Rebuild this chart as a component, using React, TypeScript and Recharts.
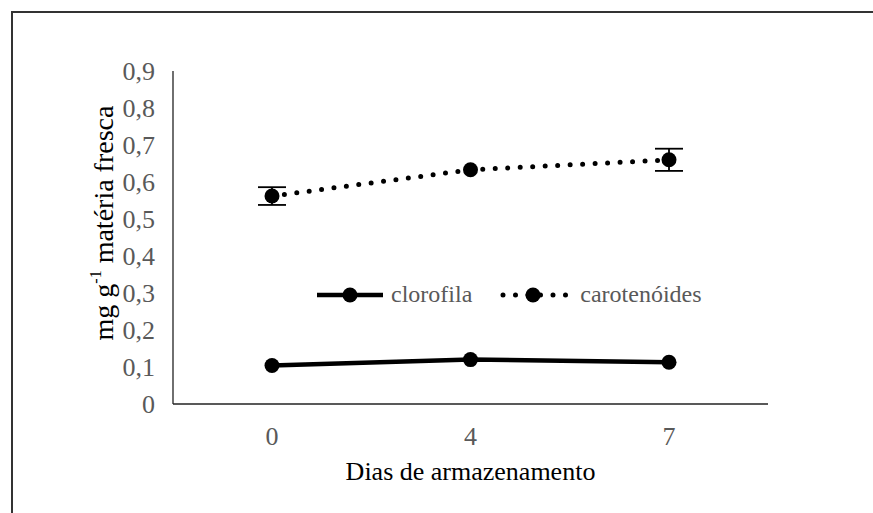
import React from 'react';
import { LineChart, Line, XAxis, YAxis, ErrorBar, Legend, Label } from 'recharts';

const days = ['0', '4', '7'];
const clorofila = [0.104, 0.12, 0.113];
const carotenoides = [0.562, 0.633, 0.66];
const carotenoidesErr: (number | null)[] = [0.024, null, 0.03];
const yTicks = [0, 0.1, 0.2, 0.3, 0.4, 0.5, 0.6, 0.7, 0.8, 0.9];
const seriesNames = ['clorofila', 'carotenoides'];
const legendLabels = ['clorofila', 'carotenóides'];
const xTitle = 'Dias de armazenamento';

const data = days.map((d, i) => ({
  dia: d,
  clorofila: clorofila[i],
  carotenoides: carotenoides[i],
  carotenoidesErr: carotenoidesErr[i],
}));

const FONT = '"Liberation Serif", "Times New Roman", serif';
const GREY = '#595959';

const fmt = (v: number) => (v === 0 ? '0' : v.toFixed(1).replace('.', ','));

const Dot = (props: any) => {
  const { cx, cy } = props;
  if (cx == null || cy == null) return null;
  return <circle cx={cx} cy={cy} r={7.5} fill="#000" stroke="none" />;
};

const LegendContent = () => (
  <div style={{ display: 'flex', alignItems: 'center', fontFamily: FONT, fontSize: 24, color: GREY }}>
    <svg width={70} height={20} style={{ marginRight: 6 }}>
      <line x1={2} y1={10} x2={68} y2={10} stroke="#000" strokeWidth={4.5} />
      <circle cx={35} cy={10} r={7.5} fill="#000" />
    </svg>
    <span style={{ marginRight: 28 }}>{legendLabels[0]}</span>
    <svg width={70} height={20} style={{ marginRight: 10 }}>
      <line x1={3} y1={10} x2={68} y2={10} stroke="#000" strokeWidth={5} strokeDasharray="0 12.5" strokeLinecap="round" />
      <circle cx={33} cy={10} r={7.5} fill="#000" />
    </svg>
    <span>{legendLabels[1]}</span>
  </div>
);

const YTitle = (props: any) => {
  const vb = props.viewBox || { x: 0, y: 44, width: 173, height: 360 };
  const cx = vb.x + 103;
  const cy = vb.y + 152;
  return (
    <text
      x={cx}
      y={cy}
      transform={`rotate(-90 ${cx} ${cy})`}
      textAnchor="middle"
      dominantBaseline="central"
      fontFamily={FONT}
      fontSize={28}
      fill="#000"
    >
      mg g<tspan dy={-8} fontSize={16}>-1</tspan>
      <tspan dy={8}> matéria fresca</tspan>
    </text>
  );
};

export default function App() {
  return (
    <div style={{ position: 'absolute', left: 0, top: 0, width: 873, height: 513, overflow: 'hidden', background: '#fff' }}>
      <div
        style={{
          position: 'absolute',
          left: 11,
          top: 11,
          width: 900,
          height: 600,
          borderTop: '2.5px solid #333',
          borderLeft: '2.5px solid #333',
        }}
      />
      <div style={{ position: 'absolute', left: 0, top: 0 }}>
        <LineChart width={873} height={513} data={data} margin={{ top: 44, right: 105, bottom: 29, left: 0 }}>
          <XAxis
            dataKey="dia"
            height={80}
            padding={{ left: 99, right: 99 }}
            tickLine={false}
            tickSize={0}
            tickMargin={23}
            axisLine={{ stroke: '#222', strokeWidth: 1.3 }}
            tick={{ fill: GREY, fontSize: 26, fontFamily: FONT }}
          >
            <Label value={xTitle} position="insideBottom" offset={4} fill="#000" fontSize={26} fontFamily={FONT} />
          </XAxis>
          <YAxis
            width={173}
            domain={[0, 0.9]}
            ticks={yTicks}
            interval={0}
            tickFormatter={fmt}
            tickLine={false}
            tickSize={0}
            tickMargin={18}
            axisLine={{ stroke: '#222', strokeWidth: 1.3 }}
            tick={{ fill: GREY, fontSize: 26, fontFamily: FONT }}
          >
            <Label content={<YTitle />} />
          </YAxis>
          <Legend verticalAlign="top" align="left" content={<LegendContent />} wrapperStyle={{ left: 315, top: 281, width: 420 }} />
          <Line
            dataKey={seriesNames[0]}
            stroke="#000"
            strokeWidth={4.5}
            dot={<Dot />}
            activeDot={false}
            isAnimationActive={false}
          />
          <Line
            dataKey={seriesNames[1]}
            stroke="#000"
            strokeWidth={5}
            strokeDasharray="0 12.5"
            strokeLinecap="round"
            dot={<Dot />}
            activeDot={false}
            isAnimationActive={false}
          >
            <ErrorBar dataKey="carotenoidesErr" width={14} stroke="#000" strokeWidth={1.8} direction="y" />
          </Line>
        </LineChart>
      </div>
    </div>
  );
}
